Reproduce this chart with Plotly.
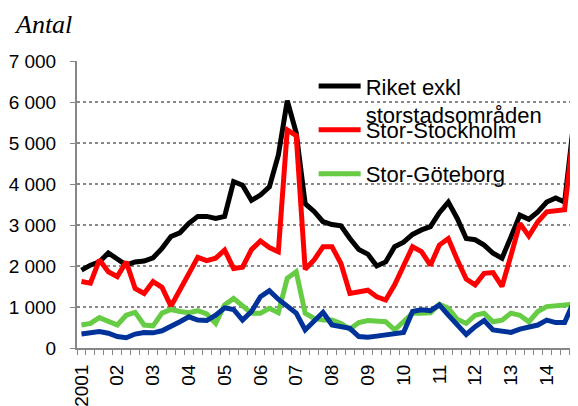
import plotly.graph_objects as go

year_labels = ["2001", "02", "03", "04", "05", "06", "07",
               "08", "09", "10", "11", "12", "13", "14"]

# quarterly values 2001 Q1 - 2014 Q4
riket = [1900, 2020, 2100, 2320, 2170, 2020, 2100, 2120, 2200, 2430,
         2720, 2810, 3040, 3210, 3210, 3160, 3210, 4060, 3970, 3600,
         3730, 3930, 4700, 6030, 5250, 3520, 3330, 3080, 3010, 2980,
         2670, 2400, 2290, 2000, 2100, 2470, 2580, 2770, 2880, 2960,
         3300, 3560, 3160, 2670, 2640, 2510, 2310, 2190, 2710, 3240,
         3140, 3320, 3560, 3660, 3560, 5480]
stockholm = [1620, 1580, 2150, 1860, 1740, 2100, 1450, 1330, 1620, 1480,
             1020, 1420, 1820, 2210, 2130, 2190, 2390, 1940, 1970, 2400,
             2610, 2450, 2350, 5320, 5180, 1920, 2150, 2470, 2470, 2060,
             1330, 1370, 1410, 1250, 1170, 1540, 2020, 2470, 2350, 2020,
             2510, 2670, 2150, 1680, 1540, 1820, 1840, 1500, 2260, 3040,
             2730, 3080, 3320, 3340, 3370, 5280]
goteborg = [560, 600, 740, 640, 560, 800, 870, 560, 540, 850,
            940, 890, 860, 910, 830, 600, 1050, 1210, 1010, 850,
            850, 970, 860, 1700, 1860, 850, 720, 680, 680, 600,
            460, 620, 670, 670, 640, 440, 640, 850, 850, 860,
            1070, 970, 700, 600, 800, 850, 640, 680, 850, 800,
            640, 890, 1010, 1020, 1050, 1070]
malmo = [340, 360, 400, 360, 280, 250, 340, 380, 370, 420,
         520, 640, 760, 680, 670, 800, 980, 940, 680, 890,
         1250, 1400, 1190, 1020, 850, 440, 640, 870, 560, 520,
         480, 280, 260, 290, 320, 340, 380, 890, 930, 910,
         1050, 800, 560, 330, 520, 670, 440, 400, 380, 460,
         500, 560, 680, 620, 620, 1120]

x = list(range(len(riket)))
font = "Liberation Sans, Arial, sans-serif"

fig = go.Figure()

fig.add_trace(go.Scatter(x=x, y=riket, name="Riket exkl<br>storstadsområden",
                         mode="lines", line=dict(color="#000000", width=5),
                         legend="legend"))
fig.add_trace(go.Scatter(x=x, y=stockholm, name="Stor-Stockholm",
                         mode="lines", line=dict(color="#FF0000", width=5),
                         legend="legend2"))
fig.add_trace(go.Scatter(x=x, y=goteborg, name="Stor-Göteborg",
                         mode="lines", line=dict(color="#66CC44", width=5),
                         legend="legend3"))
fig.add_trace(go.Scatter(x=x, y=malmo, name="Stor-Malmö",
                         mode="lines", line=dict(color="#003399", width=5),
                         showlegend=False))

leg = dict(xanchor="left", yanchor="top", valign="top", bgcolor="rgba(0,0,0,0)",
           font=dict(family=font, size=22, color="black"), itemwidth=42)

# the page adds an 8px body margin, so the figure is offset by 8px
fig.update_layout(
    width=562, height=398,
    margin=dict(l=69, r=0, t=53, b=58, autoexpand=False),
    paper_bgcolor="white", plot_bgcolor="white",
    separators=", ",
    font=dict(family=font, size=19, color="black"),
    legend=dict(leg, x=0.480, y=0.985),
    legend2=dict(leg, x=0.480, y=0.833),
    legend3=dict(leg, x=0.480, y=0.68),
    xaxis=dict(
        range=[-0.5, 54.6], showgrid=False, zeroline=False, automargin=False,
        showline=True, linecolor="#878787", linewidth=2,
        tickmode="array", tickvals=x[::4], ticktext=year_labels,
        tickangle=-90, ticks="", ticklabelstandoff=7,
        tickfont=dict(family=font, size=19, color="black"),
        minor=dict(ticks="outside", tick0=-0.5, dtick=1, ticklen=5,
                   tickwidth=1, tickcolor="#878787", showgrid=False),
    ),
    xaxis2=dict(
        range=[-0.5, 54.6], overlaying="x", side="top", anchor="y",
        automargin=False, showline=True, linecolor="black", linewidth=2,
        showgrid=False, zeroline=False, showticklabels=False, ticks="",
    ),
    yaxis=dict(
        range=[0, 7000], dtick=1000, tickformat=",d", automargin=False,
        showgrid=True, gridcolor="#888888", gridwidth=1.5, griddash="dot",
        zeroline=False, showline=True, linecolor="#878787", linewidth=2,
        ticks="outside", ticklen=5, tickcolor="#878787",
        ticklabelstandoff=10,
        tickfont=dict(family=font, size=19, color="black"),
    ),
    annotations=[dict(text="<i>Antal</i>", xref="paper", yref="paper",
                      x=-0.132, y=1.128, xanchor="left", yanchor="middle",
                      showarrow=False,
                      font=dict(family="Liberation Serif, Times New Roman, serif",
                                size=26, color="black"))],
)

fig.write_html("out.html")
